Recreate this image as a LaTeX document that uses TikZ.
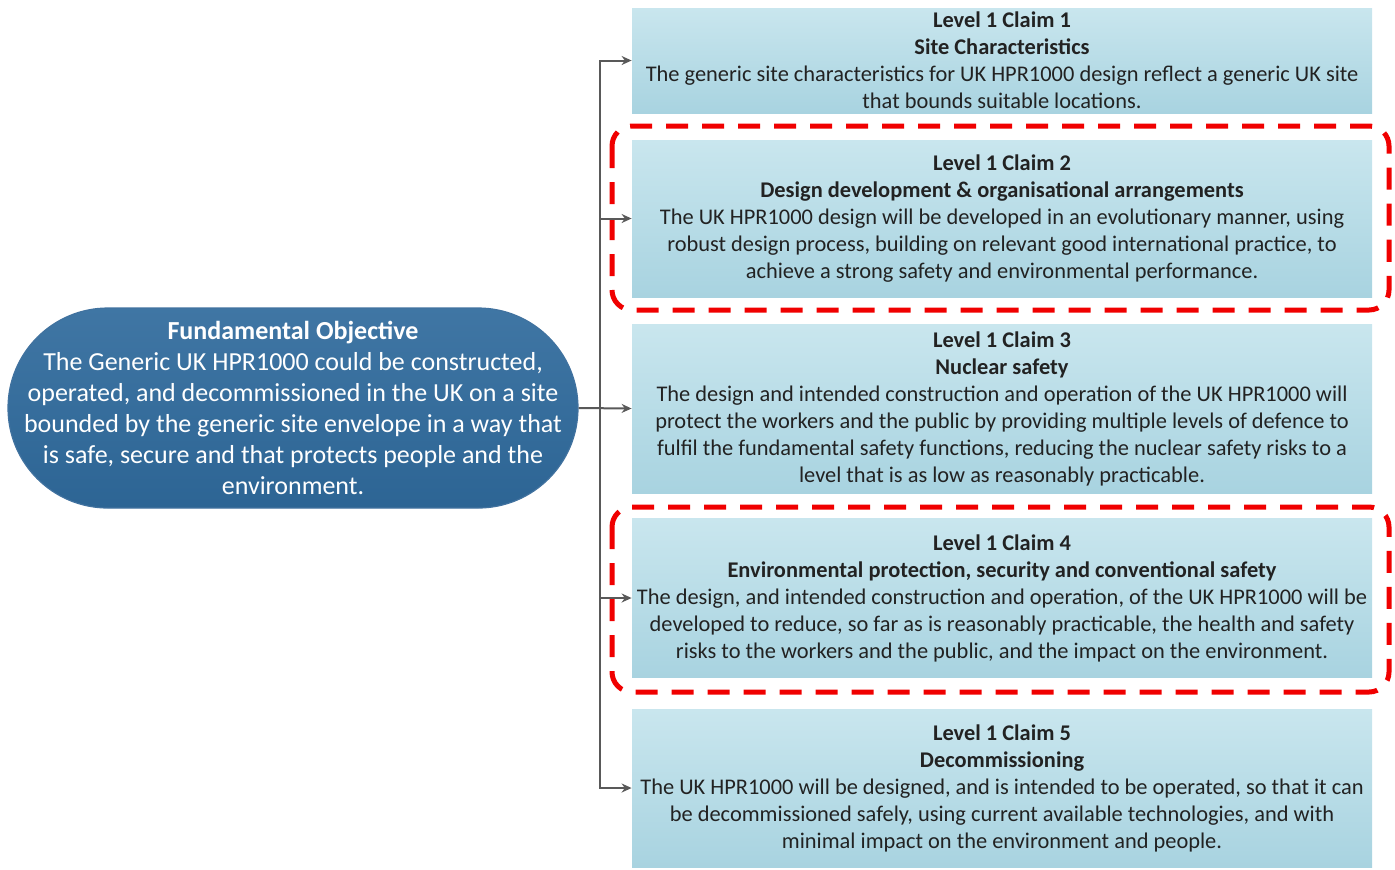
\documentclass[tikz,border=0pt]{standalone}
\usepackage{fontspec}
\setmainfont{Carlito}
\usetikzlibrary{
    arrows.meta,
    positioning,
    shapes.misc
}
\definecolor{objblue}{HTML}{2F6A9C}
\definecolor{objedge}{HTML}{41729F}
\definecolor{claimtop}{HTML}{C9E6EE}
\definecolor{claimbot}{HTML}{A8D3E0}
\definecolor{claimtext}{HTML}{222222}
\definecolor{connector}{HTML}{595959}
\definecolor{marker}{HTML}{F00000}
\tikzset{
    every picture/.style = {
        > = {Stealth[length = 5pt, width = 4.5pt]},
        x = 0.5pt,
        y = -0.5pt
    },
    objective/.style = {
        rectangle,
        rounded corners = 50pt,
        minimum width = 285pt,
        minimum height = 100pt,
        inner sep = 0pt,
        top color = objblue!92!white,
        bottom color = objblue!95!black,
        draw = objedge,
        line width = 0.6pt,
        text = white,
        align = center,
        font = \fontsize{13}{15.5}\selectfont
    },
    claim/.style = {
        rectangle,
        minimum width = 370pt,
        inner sep = 0pt,
        top color = claimtop,
        bottom color = claimbot,
        text = claimtext,
        align = center,
        font = \fontsize{11.2}{13.5}\selectfont
    },
    link/.style = {
        draw = connector,
        line width = 1pt
    },
    highlight/.style = {
        draw = marker,
        line width = 2.5pt,
        dash pattern = on 11pt off 7pt,
        rounded corners = 10pt
    }
}

\begin{document}
\begin{tikzpicture}
    \useasboundingbox (0,0) rectangle (1395,869);

    % fundamental objective
    \node[objective] (obj) at (293,408) {\textbf{Fundamental Objective}\\
        The Generic UK HPR1000 could be constructed,\\
        operated, and decommissioned in the UK on a site\\
        bounded by the generic site envelope in a way that\\
        is safe, secure and that protects people and the\\
        environment.};

    % level 1 claims
    \node[claim, minimum height = 52.5pt] (c1) at (1002,60.5) {\textbf{Level 1 Claim 1}\\
        \textbf{Site Characteristics}\\
        The generic site characteristics for UK HPR1000 design reflect a generic UK site\\
        that bounds suitable locations.};
    \node[claim, minimum height = 78.5pt] (c2) at (1002,218.5) {\textbf{Level 1 Claim 2}\\
        \textbf{Design development \& organisational arrangements}\\
        The UK HPR1000 design will be developed in an evolutionary manner, using\\
        robust design process, building on relevant good international practice, to\\
        achieve a strong safety and environmental performance.};
    \node[claim, minimum height = 84.5pt] (c3) at (1002,408.5) {\textbf{Level 1 Claim 3}\\
        \textbf{Nuclear safety}\\
        The design and intended construction and operation of the UK HPR1000 will\\
        protect the workers and the public by providing multiple levels of defence to\\
        fulfil the fundamental safety functions, reducing the nuclear safety risks to a\\
        level that is as low as reasonably practicable.};
    \node[claim, minimum height = 79.5pt] (c4) at (1002,598) {\textbf{Level 1 Claim 4}\\
        \textbf{Environmental protection, security and conventional safety}\\
        The design, and intended construction and operation, of the UK HPR1000 will be\\
        developed to reduce, so far as is reasonably practicable, the health and safety\\
        risks to the workers and the public, and the impact on the environment.};
    \node[claim, minimum height = 79pt] (c5) at (1002,788) {\textbf{Level 1 Claim 5}\\
        \textbf{Decommissioning}\\
        The UK HPR1000 will be designed, and is intended to be operated, so that it can\\
        be decommissioned safely, using current available technologies, and with\\
        minimal impact on the environment and people.};

    % dashed markers
    \draw[highlight] (612,126) rectangle (1389,310);
    \draw[highlight] (612,507) rectangle (1389,692);

    % connectors
    \coordinate (trunk) at (600,408.5);
    \draw[link, ->] (obj.east) -- (c3.west);
    \draw[link, ->] (trunk) |- (c1.west);
    \draw[link, ->] (trunk) |- (c2.west);
    \draw[link, ->] (trunk) |- (c4.west);
    \draw[link, ->] (trunk) |- (c5.west);
\end{tikzpicture}
\end{document}
